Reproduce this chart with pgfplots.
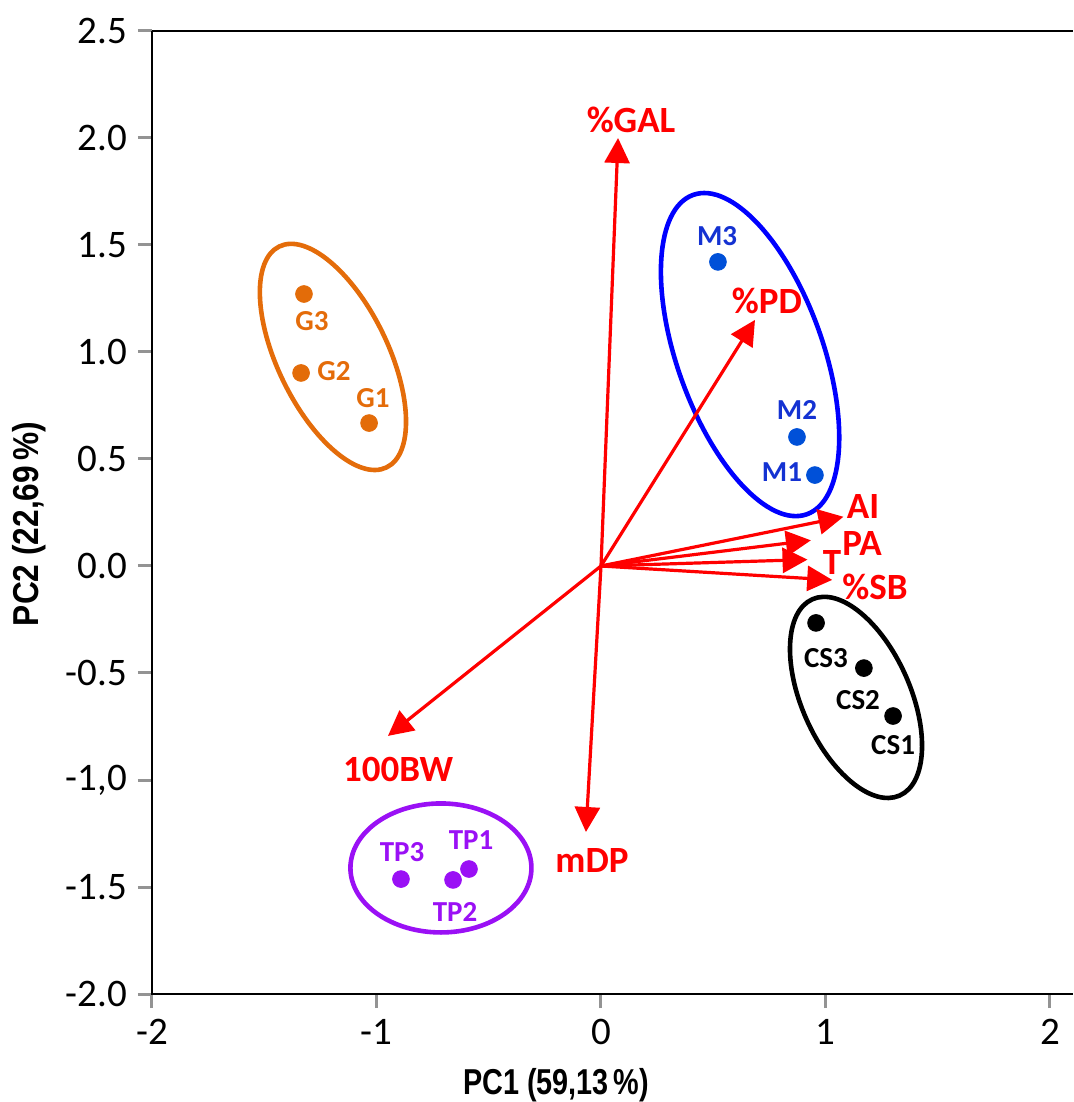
\documentclass[border=0pt]{standalone}
\usepackage{pgfplots}
\pgfplotsset{compat=1.18}
\usepackage{fontspec}
\usepackage{graphicx}
\setmainfont{Carlito}
\newfontfamily\lib{Liberation Sans}
\usetikzlibrary{arrows.meta}
\definecolor{orgC}{HTML}{E46C0A}
\definecolor{orgD}{HTML}{E36C09}
\definecolor{bluE}{HTML}{0000FF}
\definecolor{bluD}{HTML}{0050D8}
\definecolor{bluT}{HTML}{1432D2}
\definecolor{purC}{HTML}{9A10F5}
\definecolor{redC}{HTML}{FF0000}
\begin{document}
\begin{tikzpicture}
\begin{axis}[
  scale only axis,
  width=460.5pt, height=481.5pt,
  xmin=-2, xmax=2.1025,
  ymin=-2, ymax=2.5,
  clip=false,
  axis line style={draw=none},
  tick align=outside,
  xtick pos=bottom, ytick pos=left,
  major tick length=7pt,
  every tick/.style={draw=gray!85, line width=1.5pt},
  xtick={-2,-1,0,1,2},
  xticklabels={-2,-1,0,1,2},
  ytick={-2,-1.5,-1,-0.5,0,0.5,1,1.5,2,2.5},
  yticklabels={-2.0,-1.5,{-1,0},-0.5,0.0,0.5,1.0,1.5,2.0,2.5},
  ticklabel style={font=\fontsize{19.5}{22}\selectfont},
  xticklabel style={anchor=north, yshift=-2pt},
  yticklabel style={anchor=east, xshift=-2pt},
]
% axis frame (left, bottom, top)
\draw[black, line width=0.9pt] (rel axis cs:0,1) -- (rel axis cs:0,0) -- (rel axis cs:1,0);
\draw[black, line width=1.3pt] (rel axis cs:0,1) -- (rel axis cs:1,1);

% group ellipses
\draw[orgC, line width=2.3pt, rotate around={25.9:(axis cs:-1.194,0.977)}] (axis cs:-1.194,0.977) ellipse [x radius=27.6pt, y radius=61.4pt];
\draw[bluE, line width=2.3pt, rotate around={19.6:(axis cs:0.664,0.988)}] (axis cs:0.664,0.988) ellipse [x radius=36.45pt, y radius=84.75pt];
\draw[black, line width=2.3pt, rotate around={24:(axis cs:1.136,-0.614)}] (axis cs:1.136,-0.614) ellipse [x radius=27.1pt, y radius=53.7pt];
\draw[purC, line width=2.3pt] (axis cs:-0.713,-1.411) ellipse [x radius=45.25pt, y radius=32.25pt];

% loading vectors
\addplot[redC, line width=1.6pt, -{Triangle[length=12.5pt,width=12.5pt]}] coordinates {(0,0) (0.076,2.000)};
\addplot[redC, line width=1.6pt, -{Triangle[length=12.5pt,width=12.5pt]}] coordinates {(0,0) (0.686,1.150)};
\addplot[redC, line width=1.6pt, -{Triangle[length=12.5pt,width=12.5pt]}] coordinates {(0,0) (1.080,0.230)};
\addplot[redC, line width=1.6pt, -{Triangle[length=12.5pt,width=12.5pt]}] coordinates {(0,0) (0.935,0.120)};
\addplot[redC, line width=1.6pt, -{Triangle[length=12.5pt,width=12.5pt]}] coordinates {(0,0) (0.920,0.030)};
\addplot[redC, line width=1.6pt, -{Triangle[length=12.5pt,width=12.5pt]}] coordinates {(0,0) (1.030,-0.065)};
\addplot[redC, line width=1.6pt, -{Triangle[length=12.5pt,width=12.5pt]}] coordinates {(0,0) (-0.949,-0.794)};
\addplot[redC, line width=1.6pt, -{Triangle[length=12.5pt,width=12.5pt]}] coordinates {(0,0) (-0.067,-1.243)};

% scores
\addplot[only marks, mark=*, mark size=4.2pt, color=orgD] coordinates {(-1.323,1.271) (-1.336,0.902) (-1.033,0.668)};
\addplot[only marks, mark=*, mark size=4.2pt, color=bluD] coordinates {(0.521,1.421) (0.873,0.603) (0.953,0.425)};
\addplot[only marks, mark=*, mark size=4.2pt, color=black] coordinates {(0.958,-0.266) (1.171,-0.477) (1.301,-0.701)};
\addplot[only marks, mark=*, mark size=4.2pt, color=purC] coordinates {(-0.588,-1.416) (-0.659,-1.467) (-0.891,-1.463)};

% variable labels
\begin{scope}[every node/.style={text=redC, font=\fontsize{18.5}{20}\selectfont\bfseries, inner sep=0pt}]
\node at (axis cs:0.134,2.084) {\%GAL};
\node at (axis cs:0.739,1.238) {\%PD};
\node at (axis cs:1.167,0.280) {AI};
\node at (axis cs:1.163,0.107) {PA};
\node at (axis cs:1.029,0.014) {T};
\node at (axis cs:1.220,-0.098) {\%SB};
\node at (axis cs:-0.040,-1.374) {mDP};
\node at (axis cs:-0.904,-0.953) {100BW};
\end{scope}

% sample labels
\begin{scope}[every node/.style={font=\fontsize{14.5}{16}\selectfont\bfseries, inner sep=0pt}]
\node[text=orgC] at (axis cs:-1.287,1.145) {G3};
\node[text=orgC] at (axis cs:-1.189,0.911) {G2};
\node[text=orgC] at (axis cs:-1.016,0.785) {G1};
\node[text=bluT] at (axis cs:0.517,1.542) {M3};
\node[text=bluT] at (axis cs:0.873,0.729) {M2};
\node[text=bluT] at (axis cs:0.806,0.439) {M1};
\node[text=black] at (axis cs:1.002,-0.430) {CS3};
\node[text=black] at (axis cs:1.145,-0.626) {CS2};
\node[text=black] at (axis cs:1.301,-0.836) {CS1};
\node[text=purC] at (axis cs:-0.886,-1.336) {TP3};
\node[text=purC] at (axis cs:-0.579,-1.280) {TP1};
\node[text=purC] at (axis cs:-0.650,-1.617) {TP2};
\end{scope}
\end{axis}
% axis titles
\node[font=\lib\bfseries\fontsize{18}{20}\selectfont, inner sep=0pt] at (202pt,-45.5pt) {\scalebox{0.8}[1]{PC1 (59,13\,\%)}};
\node[font=\lib\bfseries\fontsize{18}{20}\selectfont, inner sep=0pt, rotate=90] at (-61.5pt,235pt) {\scalebox{0.88}[1]{PC2 (22,69\,\%)}};
\pgfresetboundingbox
\path (-76pt,-54pt) rectangle (460.5pt,497pt);
\end{tikzpicture}
\end{document}
